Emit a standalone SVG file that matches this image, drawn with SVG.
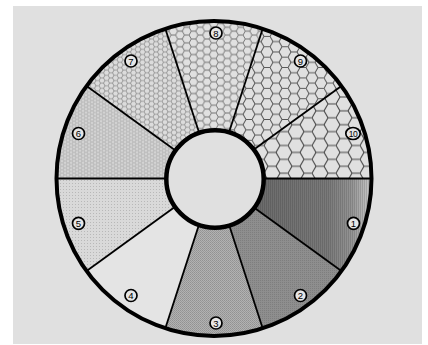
<svg xmlns="http://www.w3.org/2000/svg" width="428" height="345" viewBox="0 0 428 345">
<style>
.lbl circle, .lbl ellipse { fill:#e6e6e6; stroke:#000; stroke-width:1.7; }
.lbl text { font-family:"Liberation Sans", Arial, sans-serif; font-size:9.5px; text-anchor:middle; dominant-baseline:central; fill:#000; }
.div { stroke:#000; stroke-width:1.8; }
</style>
<defs>
  <linearGradient id="g1" gradientUnits="userSpaceOnUse" x1="262" y1="0" x2="372" y2="0">
    <stop offset="0" stop-color="#6c6c6c"/>
    <stop offset="0.6" stop-color="#7a7a7a"/>
    <stop offset="0.82" stop-color="#959595"/>
    <stop offset="1" stop-color="#cccccc"/>
  </linearGradient>
  <pattern id="stripes" width="2" height="2" patternUnits="userSpaceOnUse">
    <rect x="0" y="0" width="1" height="2" fill="#000" opacity="0.12"/>
  </pattern>
  <pattern id="p2" width="2" height="2" patternUnits="userSpaceOnUse">
    <rect width="2" height="2" fill="#8e8e8e"/>
    <rect width="1" height="1" fill="#7e7e7e"/>
  </pattern>
  <pattern id="p3" width="2" height="2" patternUnits="userSpaceOnUse">
    <rect width="2" height="2" fill="#b2b2b2"/>
    <rect width="1" height="1" fill="#929292"/>
    <rect x="1" y="1" width="1" height="1" fill="#9a9a9a"/>
  </pattern>
  <pattern id="p5" width="3" height="3" patternUnits="userSpaceOnUse">
    <rect width="3" height="3" fill="#d9d9d9"/>
    <rect width="1" height="1" fill="#b8b8b8"/>
  </pattern>
  <pattern id="p6" width="6" height="3.464" patternUnits="userSpaceOnUse">
    <rect width="6" height="3.464" fill="#d3d3d3"/>
    <path d="M0,1.732 L1,0 L3,0 L4,1.732 L3,3.464 L1,3.464 Z M4,1.732 L6,1.732" fill="none" stroke="#a8a8a8" stroke-width="0.6"/>
  </pattern>
  <pattern id="p7" width="9" height="5.196" patternUnits="userSpaceOnUse">
    <rect width="9" height="5.196" fill="#dcdcdc"/>
    <path d="M0,2.598 L1.5,0 L4.5,0 L6,2.598 L4.5,5.196 L1.5,5.196 Z M6,2.598 L9,2.598" fill="none" stroke="#8a8a8a" stroke-width="0.8"/>
  </pattern>
  <pattern id="p8" width="13.5" height="7.794" patternUnits="userSpaceOnUse">
    <rect width="13.5" height="7.794" fill="#e0e0e0"/>
    <path d="M0,3.897 L2.25,0 L6.75,0 L9,3.897 L6.75,7.794 L2.25,7.794 Z M9,3.897 L13.5,3.897" fill="none" stroke="#6a6a6a" stroke-width="0.9"/>
  </pattern>
  <pattern id="p9" width="18" height="10.392" patternUnits="userSpaceOnUse">
    <rect width="18" height="10.392" fill="#e0e0e0"/>
    <path d="M0,5.196 L3,0 L9,0 L12,5.196 L9,10.392 L3,10.392 Z M12,5.196 L18,5.196" fill="none" stroke="#555" stroke-width="1"/>
  </pattern>
  <pattern id="p10" width="24" height="13.856" patternUnits="userSpaceOnUse">
    <rect width="24" height="13.856" fill="#e0e0e0"/>
    <path d="M0,6.928 L4,0 L12,0 L16,6.928 L12,13.856 L4,13.856 Z M16,6.928 L24,6.928" fill="none" stroke="#444" stroke-width="1.1"/>
  </pattern>
</defs>
<rect x="13" y="6" width="409" height="338" fill="#e0e0e0"/>

<g id="sector1">
  <path d="M214,178.5 L371.5,178.5 A157.5,157.5 0 0 1 341.42,271.08 Z" fill="url(#g1)"/>
  <path d="M214,178.5 L371.5,178.5 A157.5,157.5 0 0 1 341.42,271.08 Z" fill="url(#stripes)"/>
</g>
<g id="sector2"><path d="M214,178.5 L341.42,271.08 A157.5,157.5 0 0 1 262.67,328.29 Z" fill="url(#p2)"/></g>
<g id="sector3"><path d="M214,178.5 L262.67,328.29 A157.5,157.5 0 0 1 165.33,328.29 Z" fill="url(#p3)"/></g>
<g id="sector4"><path d="M214,178.5 L165.33,328.29 A157.5,157.5 0 0 1 86.58,271.08 Z" fill="#e4e4e4"/></g>
<g id="sector5"><path d="M214,178.5 L86.58,271.08 A157.5,157.5 0 0 1 56.5,178.5 Z" fill="url(#p5)"/></g>
<g id="sector6"><path d="M214,178.5 L56.5,178.5 A157.5,157.5 0 0 1 86.58,85.92 Z" fill="url(#p6)"/></g>
<g id="sector7"><path d="M214,178.5 L86.58,85.92 A157.5,157.5 0 0 1 165.33,28.71 Z" fill="url(#p7)"/></g>
<g id="sector8"><path d="M214,178.5 L165.33,28.71 A157.5,157.5 0 0 1 262.67,28.71 Z" fill="url(#p8)"/></g>
<g id="sector9"><path d="M214,178.5 L262.67,28.71 A157.5,157.5 0 0 1 341.42,85.92 Z" fill="url(#p9)"/></g>
<g id="sector10"><path d="M214,178.5 L341.42,85.92 A157.5,157.5 0 0 1 371.5,178.5 Z" fill="url(#p10)"/></g>

<g id="connectors">
  <line class="div" x1="214" y1="178.5" x2="371.5" y2="178.5"/>
  <line class="div" x1="214" y1="178.5" x2="341.42" y2="271.08"/>
  <line class="div" x1="214" y1="178.5" x2="262.67" y2="328.29"/>
  <line class="div" x1="214" y1="178.5" x2="165.33" y2="328.29"/>
  <line class="div" x1="214" y1="178.5" x2="86.58" y2="271.08"/>
  <line class="div" x1="214" y1="178.5" x2="56.5" y2="178.5"/>
  <line class="div" x1="214" y1="178.5" x2="86.58" y2="85.92"/>
  <line class="div" x1="214" y1="178.5" x2="165.33" y2="28.71"/>
  <line class="div" x1="214" y1="178.5" x2="262.67" y2="28.71"/>
  <line class="div" x1="214" y1="178.5" x2="341.42" y2="85.92"/>
</g>

<g id="outer-ring"><circle cx="214" cy="178.5" r="157.5" fill="none" stroke="#000" stroke-width="4"/></g>
<g id="hub"><circle cx="215" cy="179" r="48.7" fill="#e0e0e0" stroke="#000" stroke-width="4.5"/></g>

<g id="labels" class="lbl">
  <g id="label1"><circle cx="353.5" cy="223.3" r="6"/><text x="353.5" y="223.5">1</text></g>
  <g id="label2"><circle cx="300.5" cy="295.5" r="6"/><text x="300.5" y="295.7">2</text></g>
  <g id="label3"><circle cx="216" cy="323" r="6"/><text x="216" y="323.2">3</text></g>
  <g id="label4"><circle cx="131" cy="295.5" r="6"/><text x="131" y="295.7">4</text></g>
  <g id="label5"><circle cx="78.5" cy="223.3" r="6"/><text x="78.5" y="223.5">5</text></g>
  <g id="label6"><circle cx="78.5" cy="133.5" r="6"/><text x="78.5" y="133.7">6</text></g>
  <g id="label7"><circle cx="131" cy="61" r="6"/><text x="131" y="61.2">7</text></g>
  <g id="label8"><circle cx="216" cy="33" r="6"/><text x="216" y="33.2">8</text></g>
  <g id="label9"><circle cx="300.5" cy="61" r="6"/><text x="300.5" y="61.2">9</text></g>
  <g id="label10"><ellipse cx="353" cy="133.5" rx="7.2" ry="6"/><text x="353" y="133.7" style="font-size:8.5px;letter-spacing:-0.6px">10</text></g>
</g>
</svg>
